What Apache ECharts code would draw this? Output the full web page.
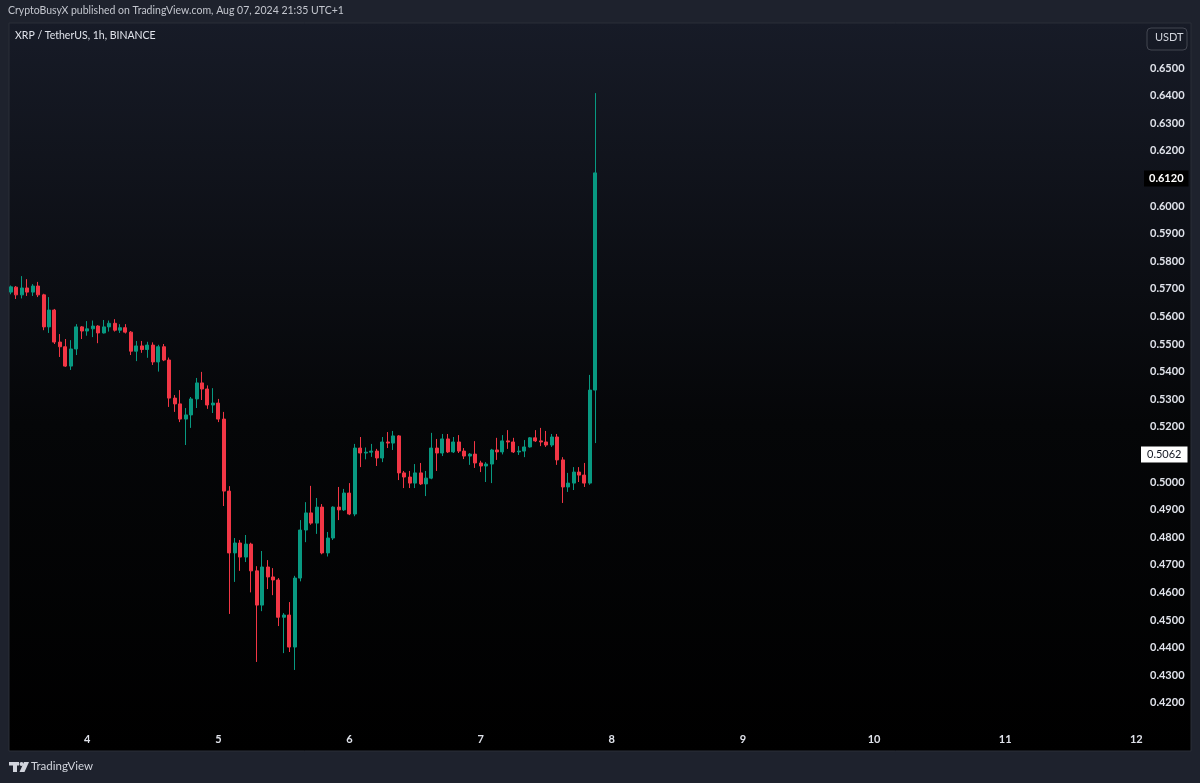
<!DOCTYPE html>
<html>
<head>
<meta charset="utf-8">
<script src="https://cdn.jsdelivr.net/npm/echarts@6/dist/echarts.min.js"></script>
<style>
html,body{margin:0;padding:0;background:#1e222d;}
#chart{width:1200px;height:783px;}
</style>
</head>
<body>
<div id="chart"></div>
<script>
// ---- data (XRP/USDT 1h, Aug 3 10:00 -> Aug 7 21:00) ----
const firstDay = 3, firstHour = 10, lastDay = 12;
const opens = [0.5688,0.5706,0.5678,0.5703,0.5688,0.5710,0.5678,0.5562,0.5623,0.5507,
0.5490,0.5420,0.5482,0.5562,0.5547,0.5555,0.5565,0.5540,0.5562,0.5575,
0.5550,0.5559,0.5543,0.5474,0.5493,0.5480,0.5496,0.5435,0.5490,0.5442,
0.5304,0.5283,0.5228,0.5243,0.5301,0.5359,0.5337,0.5279,0.5286,0.5228,
0.4967,0.4743,0.4779,0.4728,0.4775,0.4678,0.4554,0.4692,0.4656,0.4645,
0.4510,0.4518,0.4402,0.4652,0.4826,0.4888,0.4851,0.4909,0.4743,0.4797,
0.4909,0.4899,0.4960,0.4884,0.5123,0.5105,0.5108,0.5112,0.5087,0.5145,
0.5141,0.5167,0.5033,0.5018,0.4996,0.5033,0.4993,0.5014,0.5123,0.5105,
0.5156,0.5109,0.5145,0.5112,0.5094,0.5101,0.5069,0.5058,0.5065,0.5116,
0.5109,0.5149,0.5145,0.5109,0.5112,0.5127,0.5160,0.5149,0.5145,0.5134,
0.5163,0.5080,0.4982,0.4996,0.5036,0.5025,0.4996,0.5333];
const closes = [0.5707,0.5678,0.5703,0.5688,0.5710,0.5678,0.5562,0.5623,0.5507,0.5490,
0.5420,0.5482,0.5562,0.5547,0.5555,0.5565,0.5540,0.5562,0.5575,0.5550,
0.5559,0.5543,0.5474,0.5493,0.5480,0.5496,0.5435,0.5490,0.5442,0.5304,
0.5283,0.5228,0.5243,0.5301,0.5359,0.5337,0.5279,0.5286,0.5228,0.4967,
0.4743,0.4779,0.4728,0.4775,0.4678,0.4554,0.4692,0.4656,0.4645,0.4510,
0.4518,0.4402,0.4652,0.4826,0.4888,0.4851,0.4909,0.4743,0.4797,0.4909,
0.4899,0.4960,0.4884,0.5123,0.5105,0.5108,0.5112,0.5087,0.5145,0.5141,
0.5167,0.5033,0.5018,0.4996,0.5033,0.4993,0.5014,0.5123,0.5105,0.5156,
0.5109,0.5145,0.5112,0.5094,0.5101,0.5069,0.5058,0.5065,0.5116,0.5109,
0.5149,0.5145,0.5109,0.5112,0.5127,0.5160,0.5149,0.5145,0.5134,0.5163,
0.5080,0.4982,0.4996,0.5036,0.5025,0.4996,0.5333,0.6120];
const lows = [0.5680,0.5663,0.5665,0.5674,0.5674,0.5670,0.5550,0.5540,0.5500,0.5453,
0.5417,0.5406,0.5460,0.5518,0.5530,0.5525,0.5503,0.5538,0.5545,0.5545,
0.5540,0.5538,0.5460,0.5438,0.5468,0.5450,0.5424,0.5400,0.5438,0.5272,
0.5254,0.5217,0.5134,0.5196,0.5268,0.5297,0.5265,0.5250,0.5217,0.4913,
0.4522,0.4638,0.4678,0.4710,0.4600,0.4348,0.4532,0.4612,0.4590,0.4478,
0.4380,0.4384,0.4319,0.4640,0.4782,0.4845,0.4812,0.4738,0.4730,0.4790,
0.4862,0.4895,0.4880,0.4876,0.5054,0.5082,0.5091,0.5058,0.5072,0.5123,
0.5116,0.5007,0.4978,0.4978,0.4978,0.4989,0.4949,0.5010,0.5040,0.5094,
0.5105,0.5105,0.5105,0.5083,0.5062,0.5051,0.5036,0.5000,0.4996,0.5080,
0.5100,0.5120,0.5105,0.5098,0.5090,0.5125,0.5145,0.5130,0.5127,0.5127,
0.5062,0.4924,0.4964,0.4971,0.5000,0.4982,0.4990,0.5141];
const highs = [0.5712,0.5710,0.5746,0.5735,0.5717,0.5725,0.5682,0.5670,0.5627,0.5536,
0.5518,0.5514,0.5572,0.5565,0.5583,0.5585,0.5568,0.5587,0.5585,0.5590,
0.5572,0.5572,0.5547,0.5511,0.5511,0.5508,0.5506,0.5497,0.5500,0.5451,
0.5315,0.5333,0.5268,0.5308,0.5377,0.5399,0.5350,0.5340,0.5301,0.5254,
0.4985,0.4797,0.4790,0.4808,0.4780,0.4695,0.4750,0.4717,0.4688,0.4652,
0.4525,0.4565,0.4660,0.4862,0.4927,0.4986,0.4942,0.4920,0.4819,0.4912,
0.4982,0.4975,0.4996,0.5138,0.5163,0.5125,0.5138,0.5120,0.5163,0.5181,
0.5185,0.5170,0.5040,0.5040,0.5065,0.5069,0.5040,0.5178,0.5156,0.5174,
0.5174,0.5163,0.5170,0.5123,0.5105,0.5148,0.5077,0.5072,0.5120,0.5160,
0.5170,0.5188,0.5160,0.5130,0.5152,0.5163,0.5188,0.5196,0.5185,0.5174,
0.5174,0.5090,0.5033,0.5054,0.5054,0.5069,0.5388,0.6409];
const dayTicks = ['4','5','6','7','8','9','10','11','12'];
const priceTicks = ['0.4200','0.4300','0.4400','0.4500','0.4600','0.4700','0.4800','0.4900','0.5000','0.5100','0.5200','0.5300','0.5400','0.5500','0.5600','0.5700','0.5800','0.5900','0.6000','0.6100','0.6200','0.6300','0.6400','0.6500'];
const lastPrice = 0.6120;
const markPrice = 0.5062;

// hourly category axis: Aug 3 10:00 .. Aug 12 00:00
const hours = [];
for (let d = firstDay; d <= lastDay; d++) {
  for (let h = 0; h < 24; h++) {
    if (d === firstDay && h < firstHour) continue;
    if (d === lastDay && h > 0) break;
    hours.push(d + ' ' + String(h).padStart(2, '0') + ':00');
  }
}
const candles = opens.map((o, i) => [o, closes[i], lows[i], highs[i]]);

const chart = echarts.init(document.getElementById('chart'));
const FONT = 'Lato, "Open Sans", sans-serif';
chart.setOption({
  backgroundColor: '#1e222d',
  animation: false,
  graphic: { elements: [
    { type: 'rect', z: -10, shape: { x: 9, y: 23, width: 1182, height: 728 },
      style: { fill: new echarts.graphic.LinearGradient(0, 0, 0, 1, [
        { offset: 0, color: '#171b27' }, { offset: 0.55, color: '#050608' }, { offset: 1, color: '#000000' }]),
        stroke: '#2a2e39', lineWidth: 1 } },
    { type: 'text', z: 10, left: 8, top: 5, style: { text: 'CryptoBusyX published on TradingView.com, Aug 07, 2024 21:35 UTC+1', fill: '#c3c6ce', font: '10.5px ' + FONT } },
    { type: 'text', z: 10, left: 15, top: 30, style: { text: 'XRP / TetherUS, 1h, BINANCE', fill: '#e0e3eb', font: '10.5px ' + FONT } },
    { type: 'rect', z: 10, shape: { x: 1147, y: 28, width: 40, height: 22, r: 4 }, style: { fill: 'transparent', stroke: '#434651', lineWidth: 1 } },
    { type: 'text', z: 11, left: 1155, top: 32, style: { text: 'USDT', fill: '#d1d4dc', font: '11px ' + FONT } },
    // TradingView logo
    { type: 'rect', z: 10, shape: { x: 9, y: 762, width: 10, height: 3.5 }, style: { fill: '#d1d4dc' } },
    { type: 'rect', z: 10, shape: { x: 13, y: 762, width: 4, height: 10 }, style: { fill: '#d1d4dc' } },
    { type: 'circle', z: 10, shape: { cx: 21.5, cy: 764, r: 2 }, style: { fill: '#d1d4dc' } },
    { type: 'polygon', z: 10, shape: { points: [[24, 762], [29, 762], [24.5, 772], [19.5, 772]] }, style: { fill: '#d1d4dc' } },
    { type: 'text', z: 10, left: 31, top: 760, style: { text: 'TradingView', fill: '#d1d4dc', font: '11.5px ' + FONT } }
  ]},
  grid: { left: 8, right: 61, top: 12.8, bottom: 52.6 },
  xAxis: {
    type: 'category', data: hours, boundaryGap: true,
    axisLine: { show: false }, axisTick: { show: false }, splitLine: { show: false },
    axisLabel: {
      color: '#e0e3eb', fontSize: 11, fontWeight: 'bold', fontFamily: FONT, margin: 4,
      interval: (idx, v) => v.endsWith(' 00:00') && dayTicks.includes(v.split(' ')[0]),
      formatter: v => v.split(' ')[0]
    }
  },
  yAxis: {
    type: 'value', position: 'right', min: 0.41, max: 0.67, interval: 0.01, scale: true,
    axisLine: { show: false }, axisTick: { show: false }, splitLine: { show: false },
    axisLabel: {
      color: '#e0e3eb', fontSize: 11, fontWeight: 'bold', fontFamily: FONT, margin: 11, showMinLabel: false, showMaxLabel: false,
      formatter: v => { const s = v.toFixed(4); return priceTicks.includes(s) ? s : ''; }
    }
  },
  series: [{
    type: 'candlestick', data: candles, barWidth: 3.5, clip: false,
    itemStyle: { color: '#089981', color0: '#f23645', borderColor: '#089981', borderColor0: '#f23645', borderWidth: 1 },
    markLine: {
      silent: true, symbol: 'none', lineStyle: { color: 'rgba(0,0,0,0)', width: 1, type: 'solid' },
      data: [
        { yAxis: lastPrice, label: { show: true, opacity: 1, position: 'end', distance: 5, formatter: lastPrice.toFixed(4), color: '#ffffff', backgroundColor: '#000000', padding: [3, 5, 2, 5], fontSize: 11, fontWeight: 'bold', fontFamily: FONT } },
        { yAxis: markPrice, label: { show: true, opacity: 1, position: 'end', distance: 2, formatter: markPrice.toFixed(4), color: '#131722', backgroundColor: '#ffffff', padding: [3, 6, 2, 6], fontSize: 11, fontFamily: FONT } }
      ]
    }
  }]
});
</script>
</body>
</html>
